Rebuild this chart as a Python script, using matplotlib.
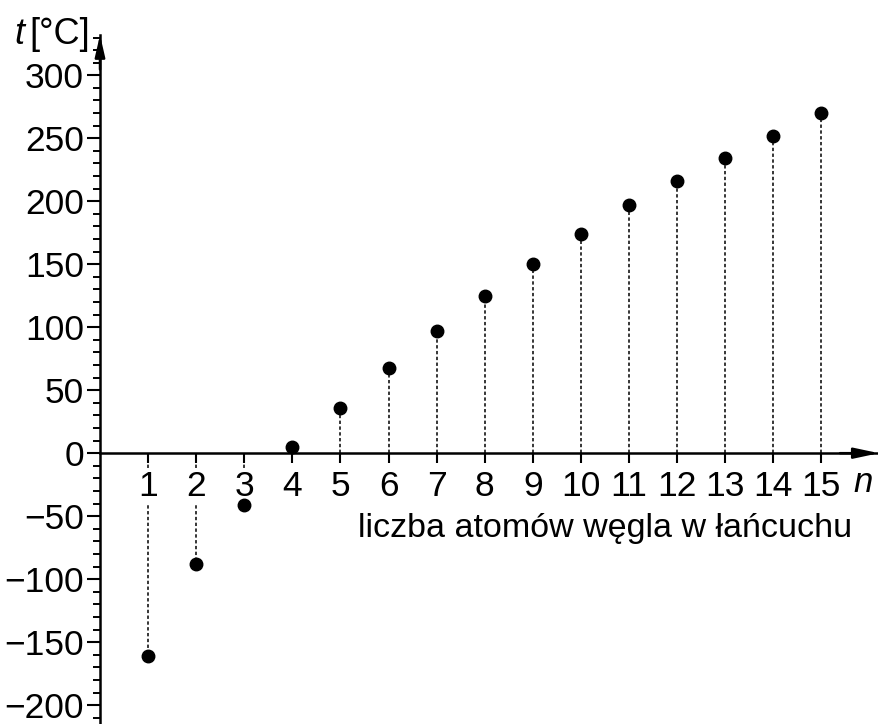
import numpy as np
import matplotlib.pyplot as plt
from matplotlib.ticker import MultipleLocator

plt.rcParams["font.family"] = ["Liberation Sans", "DejaVu Sans"]

# number of carbon atoms in the chain and boiling point
n_atoms = np.arange(1, 16)
t_boil = [-161, -88, -41, 5, 36, 68, 97, 125, 150, 174, 197, 216, 234, 252, 270]

yticks = [-200, -150, -100, -50, 0, 50, 100, 150, 200, 250, 300]
xlabel = "liczba atomów węgla w łańcuchu"

W, H = 879, 724
fig = plt.figure(figsize=(W / 100, H / 100), dpi=100)
ax = fig.add_axes([100 / W, 0, (W - 100) / W, (H - 35) / H])

ax.set_xlim(0, 16.2)
ax.set_ylim(-215, 332)

# dotted drop lines from the axis to each point
ax.vlines(n_atoms, 0, t_boil, colors="k", linestyles=(0, (2.2, 1.6)),
          linewidth=1.1, zorder=1)
ax.plot(n_atoms, t_boil, "o", color="k", markersize=9, zorder=3)

for side in ["top", "right"]:
    ax.spines[side].set_visible(False)
ax.spines["left"].set_position(("data", 0))
ax.spines["bottom"].set_position(("data", 0))
ax.spines["left"].set_linewidth(1.8)
ax.spines["bottom"].set_linewidth(1.8)

ax.set_xticks(n_atoms)
ax.set_xticklabels([str(v) for v in n_atoms])
ax.set_yticks(yticks)
ax.set_yticklabels([str(v).replace("-", "\u2212") for v in yticks])
ax.yaxis.set_minor_locator(MultipleLocator(10))
ax.tick_params(axis="x", direction="out", length=7, width=1.5, pad=5,
               labelsize=25.5)
ax.tick_params(axis="y", which="major", direction="out", length=9.5,
               width=1.5, pad=2, labelsize=25.5)
ax.tick_params(axis="y", which="minor", direction="out", length=5, width=1.4)

for lbl in ax.get_xticklabels():
    lbl.set_bbox(dict(facecolor="white", edgecolor="none", pad=1.5))

# axis arrows
ax.annotate("", xy=(0, 1), xycoords=("data", "axes fraction"),
            xytext=(0, 0.95), textcoords=("data", "axes fraction"),
            arrowprops=dict(arrowstyle="-|>,head_length=1.3,head_width=0.3",
                            color="k", lw=1.8, shrinkA=0, shrinkB=0),
            annotation_clip=False)
ax.annotate("", xy=(1, 0), xycoords=("axes fraction", "data"),
            xytext=(0.95, 0), textcoords=("axes fraction", "data"),
            arrowprops=dict(arrowstyle="-|>,head_length=1.5,head_width=0.32",
                            color="k", lw=1.8, shrinkA=0, shrinkB=0),
            annotation_clip=False)

fig.text(863 / W, 1 - 482 / H, "n", fontsize=25, style="italic",
         ha="center", va="center")
fig.text(852 / W, 1 - 537 / H, xlabel, fontsize=24.5, ha="right",
         va="baseline")
fig.text(14 / W, 1 - 34 / H, "t", fontsize=26, style="italic",
         ha="left", va="center")
fig.text(29 / W, 1 - 34 / H, "[\u00b0C]", fontsize=26, ha="left",
         va="center")

plt.savefig("out.png", dpi=100)
plt.close()
